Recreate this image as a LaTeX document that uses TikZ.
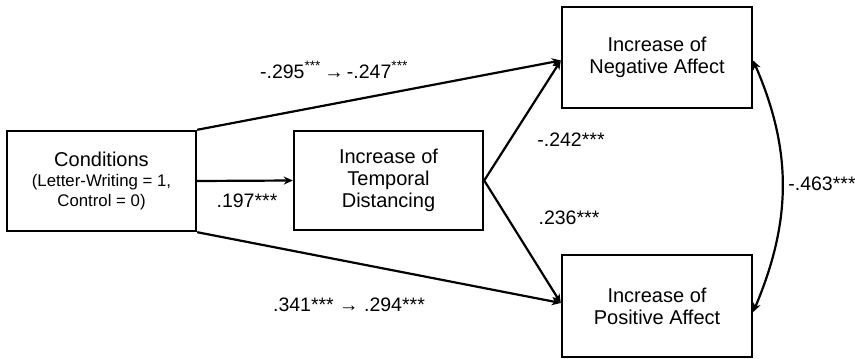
\documentclass[tikz,border=0pt]{standalone}
\usepackage{fontspec}
\setmainfont{Liberation Sans}
\usetikzlibrary{arrows.meta}
\begin{document}
\begin{tikzpicture}[x=1pt,y=-1pt,
  box/.style={draw,line width=2.4pt,align=center,inner sep=0pt,font=\fontsize{20}{22}\selectfont},
  conn/.style={line width=2.2pt,-{Stealth[length=9pt,width=8pt]}},
  lbl/.style={font=\fontsize{19.5}{20}\selectfont,inner sep=0pt}]
\useasboundingbox (0,0) rectangle (855,359);
\node[box,minimum width=189pt,minimum height=100pt,font=\fontsize{20}{20}\selectfont] (cond) at (101.5,181)
  {Conditions\\{\fontsize{16.8}{20}\selectfont(Letter-Writing = 1,}\\{\fontsize{16.8}{20}\selectfont Control = 0)}};
\node[box,minimum width=189pt,minimum height=99pt] (temp) at (388.5,180.5)
  {Increase of\\Temporal\\Distancing};
\node[box,minimum width=190pt,minimum height=101pt] (neg) at (657,57.5)
  {Increase of\\Negative Affect};
\node[box,minimum width=190pt,minimum height=102pt] (pos) at (657,306)
  {Increase of\\Positive Affect};
\draw[conn] (cond.east) -- (temp.west);
\draw[conn] (cond.north east) -- ([yshift=-3pt]neg.west);
\draw[conn] (cond.south east) -- ([yshift=3pt]pos.west);
\draw[conn] (temp.east) -- ([yshift=-3pt]neg.west);
\draw[conn] (temp.east) -- ([yshift=3pt]pos.west);
\draw[line width=2.2pt,{Stealth[length=9pt,width=8pt]}-{Stealth[length=9pt,width=8pt]}]
  ([yshift=-3pt]neg.east) .. controls (792,150) and (792,220) .. ([yshift=-6pt]pos.east);
\node[lbl] (l1) at (334,70) {-.295\textsuperscript{***}\,→\,-.247\textsuperscript{***}};
\node[lbl] (l2) at (247,201) {.197***};
\node[lbl] (l3) at (571,140) {-.242***};
\node[lbl] (l4) at (569,218) {.236***};
\node[lbl] (l5) at (349,305) {.341*** → .294***};
\node[lbl] (l6) at (822,184) {-.463***};
\end{tikzpicture}
\end{document}
